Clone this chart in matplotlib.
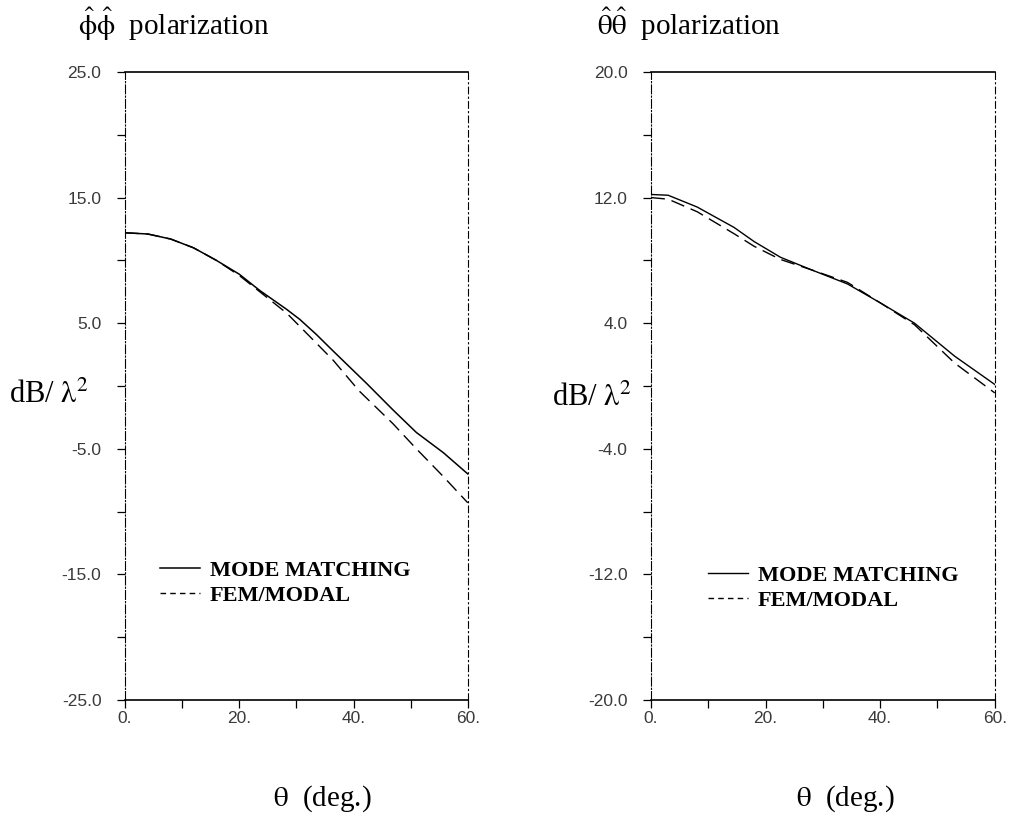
import numpy as np
import matplotlib
matplotlib.use("Agg")
import matplotlib.pyplot as plt

plt.rcParams['mathtext.fontset'] = 'stix'

# phi-phi polarization (left panel)
theta_phi_mm = [0, 4, 8, 12, 16, 20, 23.6, 28.3, 30.6, 33.5, 36.4, 42.3, 46.9, 51, 55.7, 60]
rcs_phi_mm = [12.2, 12.1, 11.7, 11.0, 10.0, 8.9, 7.6, 6.1, 5.3, 4.1, 2.8, 0.2, -1.9, -3.7, -5.3, -7.0]
theta_phi_fem = [0, 4, 8, 12, 16, 20, 23.6, 28.3, 32, 36.4, 41, 46.9, 51, 55.7, 60]
rcs_phi_fem = [12.2, 12.1, 11.7, 11.0, 10.0, 8.8, 7.5, 5.8, 4.1, 2.07, -0.4, -3.0, -5.0, -7.2, -9.3]

# theta-theta polarization (right panel)
theta_th_mm = [0, 3, 8.06, 14.5, 18, 22.6, 28, 34.3, 40, 46, 53, 60]
rcs_th_mm = [12.2, 12.15, 11.4, 10.1, 9.2, 8.2, 7.4, 6.5, 5.3, 4.0, 1.9, 0.1]
theta_th_fem = [0, 3, 8.06, 14.5, 18, 22.6, 28, 34.3, 40, 46, 53, 60]
rcs_th_fem = [12.0, 11.9, 11.1, 9.7, 8.9, 8.06, 7.4, 6.6, 5.3, 3.9, 1.46, -0.44]

xticks = [0, 10, 20, 30, 40, 50, 60]
xticklabels = ['0.', '', '20.', '', '40.', '', '60.']
yticks_phi = [25, 20, 15, 10, 5, 0, -5, -10, -15, -20, -25]
ylabels_phi = ['25.0', '', '15.0', '', '5.0', '', '-5.0', '', '-15.0', '', '-25.0']
yticks_th = [20, 16, 12, 8, 4, 0, -4, -8, -12, -16, -20]
ylabels_th = ['20.0', '', '12.0', '', '4.0', '', '-4.0', '', '-12.0', '', '-20.0']

serif = 'Liberation Serif'
sans = 'Liberation Sans'

fig = plt.figure(figsize=(10.14, 8.23), dpi=100)
ax1 = fig.add_axes([0.1233, 0.1495, 0.338, 0.763])
ax2 = fig.add_axes([0.642, 0.1495, 0.339, 0.763])


def style_axis(ax, yticks, ylabels, ylim):
    ax.set_xlim(0, 60)
    ax.set_ylim(*ylim)
    ax.set_xticks(xticks)
    ax.set_xticklabels(xticklabels, fontfamily=sans, fontsize=12.5, color='#3a3a3a')
    ax.set_yticks(yticks)
    ax.set_yticklabels(ylabels, fontfamily=sans, fontsize=12.5, color='#3a3a3a')
    ax.tick_params(direction='out', length=6, width=0.9)
    ax.tick_params(axis='y', pad=11)
    ax.tick_params(axis='x', pad=2)
    ax.spines['top'].set_linewidth(1.2)
    ax.spines['bottom'].set_linewidth(1.2)
    ax.spines['left'].set_linewidth(0.8)
    ax.spines['left'].set_linestyle((0, (8, 2, 1, 2)))
    ax.spines['right'].set_linewidth(0.8)
    ax.spines['right'].set_linestyle((0, (6, 3, 1, 3)))


ax1.plot(theta_phi_mm, rcs_phi_mm, color='black', lw=1.1, label='MODE MATCHING')
ax1.plot(theta_phi_fem, rcs_phi_fem, color='black', lw=1.0, ls=(0, (10, 5)), label='FEM/MODAL')
style_axis(ax1, yticks_phi, ylabels_phi, (-25, 25))

ax2.plot(theta_th_mm, rcs_th_mm, color='black', lw=1.0, label='MODE MATCHING')
ax2.plot(theta_th_fem, rcs_th_fem, color='black', lw=1.0, ls=(0, (10, 5)), label='FEM/MODAL')
style_axis(ax2, yticks_th, ylabels_th, (-20, 20))

for ax, anchor in [(ax1, (0.102, 0.222)), (ax2, (0.166, 0.214))]:
    leg = ax.legend(loc='upper left', bbox_to_anchor=anchor, frameon=False,
                    prop={'family': serif, 'weight': 'bold', 'size': 16},
                    handlelength=1.8, handletextpad=0.45, labelspacing=0.2,
                    borderpad=0, borderaxespad=0)
    leg.get_lines()[1].set_linestyle((0, (4, 3)))

fig.text(0.077, 0.97, r'$\hat{\mathrm{\phi}}\hat{\mathrm{\phi}}$  polarization', fontfamily=serif,
         fontsize=21, ha='left', va='center')
fig.text(0.589, 0.97, r'$\hat{\mathrm{\theta}}\hat{\mathrm{\theta}}$  polarization', fontfamily=serif,
         fontsize=21, ha='left', va='center')

fig.text(0.009, 0.519, r'dB/ $\mathrm{\lambda}^2$', fontfamily=serif, fontsize=22, ha='left', va='center')
fig.text(0.544, 0.516, r'dB/ $\mathrm{\lambda}^2$', fontfamily=serif, fontsize=22, ha='left', va='center')

fig.text(0.318, 0.030, r'$\mathrm{\theta}$  (deg.)', fontfamily=serif, fontsize=21, ha='center', va='center')
fig.text(0.834, 0.030, r'$\mathrm{\theta}$  (deg.)', fontfamily=serif, fontsize=21, ha='center', va='center')

fig.savefig('out.png', dpi=100, facecolor='white')
